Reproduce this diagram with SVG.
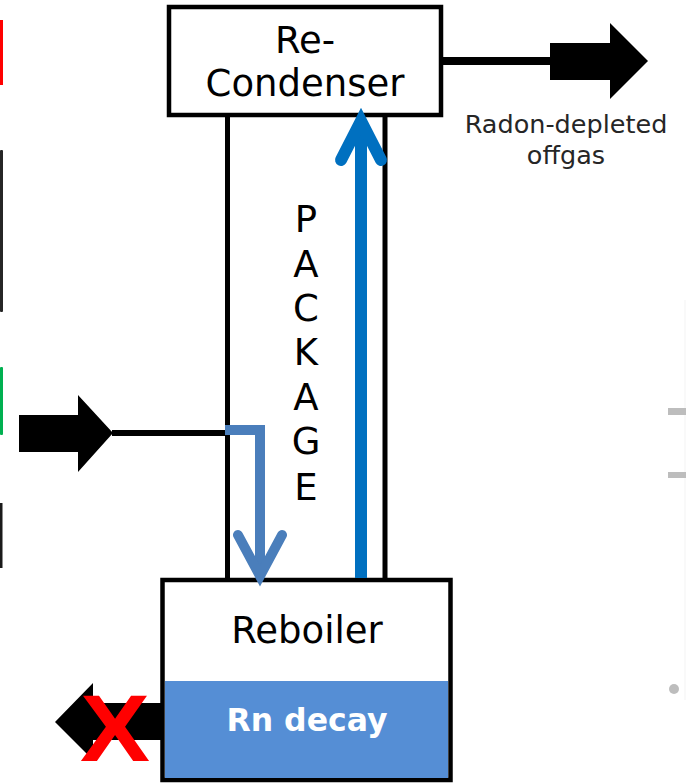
<svg xmlns="http://www.w3.org/2000/svg" width="686" height="783" viewBox="0 0 686 783">
  <style>
    .box { fill: #ffffff; stroke: #000000; stroke-width: 4.5; stroke-linejoin: miter; }
    .lbl { font-family: "DejaVu Sans", Verdana, sans-serif; font-size: 37px; fill: #000000; text-anchor: middle; }
    .small { font-family: "DejaVu Sans", Verdana, sans-serif; font-size: 25.5px; fill: #262626; text-anchor: middle; }
    .bold { font-family: "DejaVu Sans", Verdana, sans-serif; font-weight: bold; font-size: 31.5px; fill: #ffffff; text-anchor: middle; }
    .col { stroke: #000000; stroke-width: 5; fill: none; }
    .gray { fill: #bdbdbd; }
  </style>

  <!-- left edge fragments -->
  <rect x="0" y="20" width="3" height="65" fill="#ff0000"/>
  <rect x="0" y="150" width="3" height="162" rx="1" fill="#262626"/>
  <rect x="0" y="367" width="3" height="68" rx="1" fill="#00b050"/>
  <rect x="0" y="503" width="2.5" height="65" fill="#1a1a1a"/>

  <!-- right edge fragments -->
  <line x1="685" y1="300" x2="685" y2="700" stroke="#f3f3f3" stroke-width="1"/>
  <rect class="gray" x="668" y="408" width="18" height="7"/>
  <rect class="gray" x="668" y="472" width="18" height="6"/>
  <circle class="gray" cx="674" cy="689" r="5"/>

  <g id="package">
    <line class="col" x1="227.5" y1="114" x2="227.5" y2="580"/>
    <line class="col" x1="385" y1="114" x2="385" y2="580"/>
    <text class="lbl" x="306" y="232">P</text>
    <text class="lbl" x="306" y="277">A</text>
    <text class="lbl" x="306" y="321">C</text>
    <text class="lbl" x="306" y="365">K</text>
    <text class="lbl" x="306" y="410">A</text>
    <text class="lbl" x="306" y="454">G</text>
    <text class="lbl" x="306" y="500">E</text>
  </g>

  <g id="recondenser">
    <rect class="box" x="169" y="7" width="272" height="108"/>
    <text class="lbl" x="305" y="53">Re-</text>
    <text class="lbl" x="305" y="96">Condenser</text>
  </g>

  <g id="reboiler">
    <rect class="box" x="162.5" y="580" width="288" height="200"/>
    <rect x="165" y="681" width="283" height="97" fill="#558ed5"/>
    <text class="lbl" x="307" y="643">Reboiler</text>
    <text class="bold" x="307" y="731">Rn decay</text>
  </g>

  <g id="connectors">
    <!-- feed in -->
    <polygon points="19,415 78,415 78,395 113,433 78,472 78,452 19,452" fill="#000000"/>
    <line x1="112" y1="433" x2="229" y2="433" stroke="#000000" stroke-width="6"/>
    <!-- downward liquid flow -->
    <polyline points="225,430 260,430 260,574" fill="none" stroke="#4a7ebb" stroke-width="10"/>
    <polyline points="238,535 260,576 282,535" fill="none" stroke="#4a7ebb" stroke-width="10" stroke-linecap="round" stroke-linejoin="miter"/>
    <!-- upward vapour flow -->
    <line x1="361" y1="578" x2="361" y2="122" stroke="#0070c0" stroke-width="12"/>
    <polyline points="341,160 361,121 381,160" fill="none" stroke="#0070c0" stroke-width="12" stroke-linecap="round" stroke-linejoin="miter"/>
    <!-- offgas out -->
    <line x1="443" y1="61" x2="552" y2="61" stroke="#000000" stroke-width="8"/>
    <polygon points="550,43 610,43 610,23 648,61 610,99 610,80 550,80" fill="#000000"/>
    <!-- blocked outlet -->
    <polygon points="161,703 93,703 93,683 55,722 93,760 93,740 161,740" fill="#000000"/>
    <text x="115" y="761" font-family="Liberation Sans, Arial, sans-serif" font-weight="bold" font-size="95" fill="#ff0000" text-anchor="middle" textLength="70" lengthAdjust="spacingAndGlyphs">X</text>
  </g>

  <g id="offgas-label">
    <text class="small" x="566" y="133">Radon-depleted</text>
    <text class="small" x="566" y="164">offgas</text>
  </g>
</svg>
